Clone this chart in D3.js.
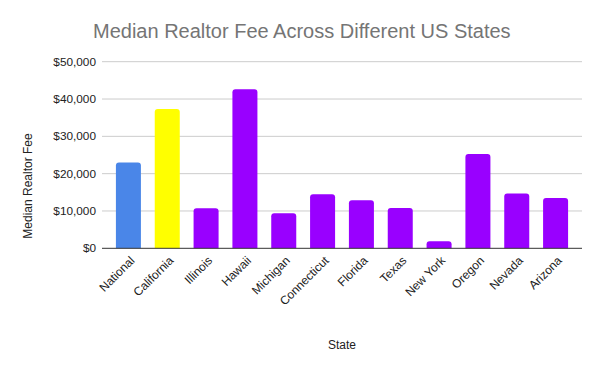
<!DOCTYPE html>
<meta charset="utf-8">
<style>
body { margin: 0; background: #fff; }
text { font-family: "Liberation Sans", Arial, sans-serif; }
</style>
<body>
<script src="https://d3js.org/d3.v7.min.js"></script>
<script>

const width = 600;
const height = 371;

const states = ["National", "California", "Illinois", "Hawaii", "Michigan", "Connecticut",
  "Florida", "Texas", "New York", "Oregon", "Nevada", "Arizona"];
const fees = [23000, 37300, 10700, 42600, 9400, 14500, 12900, 10800, 1900, 25300, 14700, 13500];
const barColors = ["#4a86e8", "#ffff00", "#9900ff", "#9900ff", "#9900ff", "#9900ff",
  "#9900ff", "#9900ff", "#9900ff", "#9900ff", "#9900ff", "#9900ff"];
const yTicks = [0, 10000, 20000, 30000, 40000, 50000];

const plot = { left: 102, right: 582, top: 61.7, bottom: 248.3 };

const svg = d3.select("body").append("svg")
    .attr("width", width)
    .attr("height", height);

const x = d3.scaleBand()
    .domain(states)
    .range([109, 575])
    .paddingInner(0.356)
    .paddingOuter(0.178);

const y = d3.scaleLinear()
    .domain([0, 50000])
    .range([plot.bottom, plot.top]);

// gridlines
svg.append("g")
  .selectAll("line")
  .data(yTicks.slice(1))
  .enter().append("line")
    .attr("x1", plot.left)
    .attr("x2", plot.right)
    .attr("y1", d => y(d))
    .attr("y2", d => y(d))
    .attr("stroke", "#cccccc")
    .attr("stroke-width", 1);

// y tick labels
svg.append("g")
  .selectAll("text")
  .data(yTicks)
  .enter().append("text")
    .attr("x", 96)
    .attr("y", d => y(d))
    .attr("dy", "0.35em")
    .attr("text-anchor", "end")
    .attr("font-size", 11.8)
    .attr("fill", "#222")
    .text(d => "$" + d3.format(",")(d));

// bars with rounded top corners
const r = 3;
svg.append("g")
  .selectAll("path")
  .data(states)
  .enter().append("path")
    .attr("fill", (d, i) => barColors[i])
    .attr("d", (d, i) => {
      const x0 = x(d), w = x.bandwidth();
      const y0 = y(fees[i]), y1 = y(0);
      return `M${x0},${y1}V${y0 + r}Q${x0},${y0} ${x0 + r},${y0}` +
             `H${x0 + w - r}Q${x0 + w},${y0} ${x0 + w},${y0 + r}V${y1}Z`;
    });

// baseline
svg.append("line")
    .attr("x1", plot.left)
    .attr("x2", plot.right)
    .attr("y1", y(0))
    .attr("y2", y(0))
    .attr("stroke", "#333")
    .attr("stroke-width", 1);

// x labels
svg.append("g")
  .selectAll("text")
  .data(states)
  .enter().append("text")
    .attr("transform", d => `translate(${x(d) + x.bandwidth() / 2 + 4},${plot.bottom + 10}) rotate(-45)`)
    .attr("text-anchor", "end")
    .attr("dy", "0.35em")
    .attr("font-size", 12)
    .attr("fill", "#222")
    .text(d => d);

// title
svg.append("text")
    .attr("x", 93)
    .attr("y", 37.5)
    .attr("font-size", 20)
    .attr("fill", "#757575")
    .text("Median Realtor Fee Across Different US States");

// axis titles
svg.append("text")
    .attr("x", 342)
    .attr("y", 349)
    .attr("text-anchor", "middle")
    .attr("font-size", 12)
    .attr("fill", "#222")
    .text("State");

svg.append("text")
    .attr("transform", "translate(32,186) rotate(-90)")
    .attr("text-anchor", "middle")
    .attr("font-size", 12)
    .attr("fill", "#222")
    .text("Median Realtor Fee");

</script>
</body>
